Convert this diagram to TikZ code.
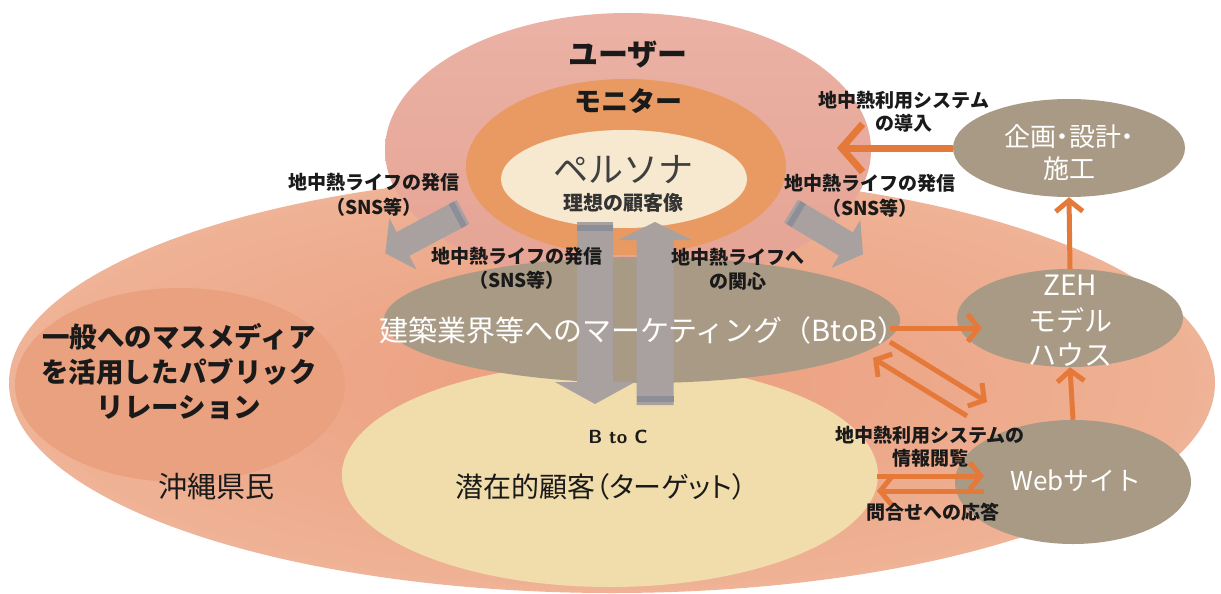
\documentclass[tikz,border=0pt]{standalone}
\usepackage{fontspec}
\newfontfamily\jp{Noto Sans CJK JP}
\newfontfamily\jpp[RawFeature=+palt]{Noto Sans CJK JP}
\usetikzlibrary{arrows.meta,shapes.geometric}
\definecolor{bgin}{HTML}{EB9E7E}
\definecolor{bgmid}{HTML}{EFB194}
\definecolor{bgout}{HTML}{FAEDE6}
\definecolor{usertop}{HTML}{EAB2A5}
\definecolor{userbot}{HTML}{E5A393}
\definecolor{monc}{HTML}{E99A62}
\definecolor{perc}{HTML}{F7E9D0}
\definecolor{tgin}{HTML}{F1DDAB}
\definecolor{tgout}{HTML}{EDCDA0}
\definecolor{massc}{HTML}{E9A17F}
\definecolor{brownc}{HTML}{A89A85}
\definecolor{orc}{HTML}{E5793A}
\definecolor{gfc}{HTML}{A8A19F}
\definecolor{gbc}{HTML}{8C8E98}
\definecolor{txt}{HTML}{1A1A1A}
\pgfdeclareradialshading{bigsh}{\pgfpoint{0bp}{0bp}}{color(0bp)=(bgin); color(24bp)=(bgmid); color(50bp)=(bgout)}
\pgfdeclareradialshading{tgsh}{\pgfpoint{0bp}{0bp}}{color(0bp)=(tgin); color(38bp)=(tgin); color(50bp)=(tgout)}
\newcommand\garrow[6]{%
  \begin{scope}[shift={#1},rotate=#2]
    \fill[gfc] (0,-#4/2) -- (#3-#6,-#4/2) -- (#3-#6,-#5/2) -- (#3,0) -- (#3-#6,#5/2) -- (#3-#6,#4/2) -- (0,#4/2) -- cycle;
    \fill[gbc] (3,-#4/2) rectangle (9,#4/2);
  \end{scope}}
\begin{document}
\begin{tikzpicture}[x=1pt,y=-1pt,
  ell/.style={ellipse,inner sep=0pt,draw=none},
  lab/.style={font=\jp\bfseries\fontsize{19}{19}\selectfont,text=txt,inner sep=0pt},
  wt/.style={font=\jp\fontsize{28}{28}\selectfont,text=white,inner sep=0pt},
  oarr/.style={draw=orc,line width=5pt,-{Straight Barb[length=11pt,width=27pt]}},
  barr/.style={draw=orc,line width=7pt,-{Straight Barb[length=21pt,width=48pt]}}]
\useasboundingbox (0,0) rectangle (1221,594);
\fill[white] (0,0) rectangle (1221,594);
% regions
\node[ell,shading=bigsh,minimum width=1206pt,minimum height=420pt] (okinawa) at (612,383) {};
\node[ell,fill=massc,minimum width=330pt,minimum height=194pt] (mass) at (180,385) {};
\node[ell,top color=usertop,bottom color=userbot,minimum width=486pt,minimum height=274pt] (user) at (628,150) {};
\node[ell,fill=monc,minimum width=320pt,minimum height=176pt] (monitor) at (626,167) {};
\node[ell,fill=perc,minimum width=246pt,minimum height=98pt] (persona) at (624,179) {};
\node[ell,shading=tgsh,minimum width=536pt,minimum height=224pt] (target) at (610,475) {};
\node[ell,fill=brownc,minimum width=516pt,minimum height=126pt] (btob) at (642,320) {};
\node[ell,fill=brownc,minimum width=232pt,minimum height=98pt] (kikaku) at (1069,148) {};
\node[ell,fill=brownc,minimum width=226pt,minimum height=98pt] (zeh) at (1070,318) {};
\node[ell,fill=brownc,minimum width=236pt,minimum height=124pt] (web) at (1073,482) {};
% gray block arrows
\garrow{(595,222)}{-90}{182}{36}{80}{22}
\garrow{(655,405)}{90}{183}{37}{74}{18}
\garrow{(463,212)}{208}{88}{27}{58}{20}
\garrow{(791,211)}{-31}{84}{27}{56}{20}
% orange connectors
\coordinate (k2) at (837,148);
\draw[barr] (kikaku.west) -- (k2);
\draw[oarr] (zeh.north) -- (kikaku.south);
\draw[oarr] (web.north) -- (zeh.south);
\coordinate (b1) at (890,328);
\coordinate (b2) at (982,328);
\draw[oarr] (b1) -- (b2);
\coordinate (d1) at (890,342);
\coordinate (d2) at (987,402);
\coordinate (d3) at (967,416);
\coordinate (d4) at (873,358);
\draw[oarr] (d1) -- (d2);
\draw[oarr] (d3) -- (d4);
\coordinate (h1) at (877,476);
\coordinate (h2) at (984,476);
\coordinate (h3) at (984,491);
\coordinate (h4) at (877,491);
\draw[oarr] (h1) -- (h2);
\draw[oarr] (h3) -- (h4);
% texts
\node[font=\jp\bfseries\fontsize{30}{30}\selectfont,text=txt] (tuser) at (628,55) {ユーザー};
\node[font=\jp\bfseries\fontsize{27}{27}\selectfont,text=txt] (tmon) at (628,101) {モニター};
\node[font=\jp\fontsize{35}{35}\selectfont,text=black!75] (tper) at (623,170) {ペルソナ};
\node[font=\jp\bfseries\fontsize{20}{20}\selectfont,text=black!80] (tper2) at (623,203) {理想の顧客像};
\node[lab] (l1a) at (374,182) {地中熱ライフの発信};
\node[lab] (l1b) at (374,207) {（SNS等）};
\node[lab] (l2a) at (870,183) {地中熱ライフの発信};
\node[lab] (l2b) at (870,208) {（SNS等）};
\node[lab] (l3a) at (517,256) {地中熱ライフの発信};
\node[lab] (l3b) at (517,280) {（SNS等）};
\node[lab] (l4a) at (738,257) {地中熱ライフへ};
\node[lab] (l4b) at (738,281) {の関心};
\node[lab] (l5a) at (904,100) {地中熱利用システム};
\node[lab] (l5b) at (904,123) {の導入};
\node[font=\jp\fontsize{29}{29}\selectfont,text=white] (tbtob) at (643,330) {建築業界等へのマーケティング（BtoB）};
\node[font=\sffamily\bfseries\fontsize{19}{19}\selectfont,text=txt] (tbtoc) at (618,437) {B to C};
\node[font=\jpp\fontsize{28}{28}\selectfont,text=txt] (ttarget) at (601,487) {潜在的顧客（ターゲット）};
\node[font=\jp\fontsize{29}{29}\selectfont,text=txt] (tokinawa) at (216,487) {沖縄県民};
\node[font=\jp\bfseries\fontsize{27.5}{27.5}\selectfont,text=txt] (tm1) at (179,337) {一般へのマスメディア};
\node[font=\jp\bfseries\fontsize{27.5}{27.5}\selectfont,text=txt] (tm2) at (179,372) {を活用したパブリック};
\node[font=\jp\bfseries\fontsize{27.5}{27.5}\selectfont,text=txt] (tm3) at (179,408) {リレーション};
\node[font=\jpp\fontsize{26}{26}\selectfont,text=white,inner sep=0pt] (tk1) at (1069,137) {企画・設計・};
\node[font=\jpp\fontsize{26}{26}\selectfont,text=white,inner sep=0pt] (tk2) at (1069,169) {施工};
\node[wt] (tz1) at (1070,285) {ZEH};
\node[wt] (tz2) at (1070,320) {モデル};
\node[wt] (tz3) at (1070,355) {ハウス};
\node[font=\jp\fontsize{26}{26}\selectfont,text=white,inner sep=0pt] (tw) at (1076,481) {Webサイト};
\node[lab] (l6a) at (930,435) {地中熱利用システムの};
\node[lab] (l6b) at (930,458) {情報閲覧};
\node[lab] (l7) at (933,512) {問合せへの応答};
\end{tikzpicture}
\end{document}
